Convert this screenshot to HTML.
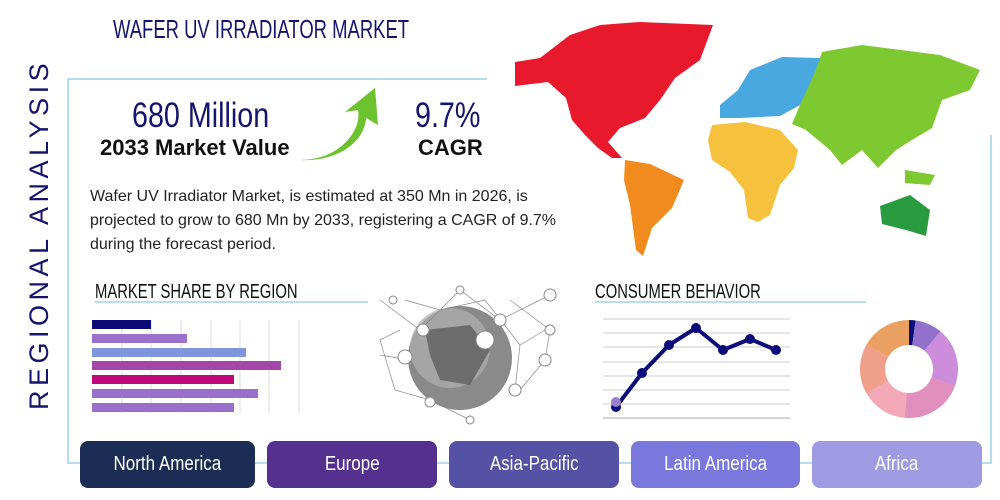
<!DOCTYPE html>
<html><head><meta charset="utf-8"><style>
body{margin:0;width:1000px;height:500px;background:#fff;overflow:hidden;position:relative;font-family:"Liberation Sans",sans-serif}
.abs{position:absolute;white-space:nowrap}
.sx{transform-origin:0 0}
.btn{position:absolute;top:441px;height:47px;border-radius:8px;color:#fff;font-size:20px;text-align:center;line-height:47px}
.btn span{display:inline-block;transform:scaleX(.85)}
</style></head><body>
<svg class="abs" style="left:0;top:0" width="1000" height="500">
<path d="M487 79 H68 V463 H991 V135" fill="none" stroke="#9fd3e6" stroke-width="1.5"/>
<polygon fill="#e8192c" points="515,62 540,58 570,35 600,25 640,22 713,25 700,60 675,78 660,100 645,118 620,128 608,142 622,158 612,158 598,148 585,135 572,120 566,98 548,82 515,86"/>
<polygon fill="#f28b1e" points="625,160 650,164 684,180 672,208 652,228 643,256 636,250 630,205 624,180"/>
<polygon fill="#4aa8e0" points="720,105 738,90 750,70 782,57 820,58 815,80 800,105 780,116 740,118 720,118"/>
<polygon fill="#f6c23d" points="712,125 745,122 780,130 798,150 794,168 780,185 770,215 758,222 748,218 744,190 730,172 712,160 708,140"/>
<polygon fill="#7ec832" points="800,105 815,72 822,52 862,45 940,55 980,70 970,90 942,100 932,128 912,140 896,150 878,168 862,150 842,165 830,150 806,130 792,124"/>
<polygon fill="#2a9a40" points="880,206 910,195 930,210 926,236 906,230 882,224"/>
<polygon fill="#7ec832" points="905,170 935,175 930,185 905,183"/>
<path d="M300 160 C340 160 362 130 358 110 L345 112 L375 88 L378 125 L366 118 C365 140 340 162 300 160 Z" fill="#6cc22f"/>
<line x1="95" y1="302" x2="368" y2="302" stroke="#9fd3e6" stroke-width="1.5"/>
<g stroke="#ddd" stroke-width="1">
<line x1="122" y1="320" x2="122" y2="413"/><line x1="151" y1="320" x2="151" y2="413"/><line x1="181" y1="320" x2="181" y2="413"/><line x1="211" y1="320" x2="211" y2="413"/><line x1="240" y1="320" x2="240" y2="413"/><line x1="269" y1="320" x2="269" y2="413"/><line x1="299" y1="320" x2="299" y2="413"/>
</g>
<rect x="92" y="320" width="59" height="9" fill="#0a0a78"/>
<rect x="92" y="334" width="95" height="9" fill="#9a72cc"/>
<rect x="92" y="348" width="154" height="9" fill="#7f96dc"/>
<rect x="92" y="361" width="189" height="9" fill="#a347a8"/>
<rect x="92" y="375" width="142" height="9" fill="#c0077a"/>
<rect x="92" y="389" width="166" height="9" fill="#9a6fcc"/>
<rect x="92" y="403" width="142" height="9" fill="#9a6fcc"/>
<g>
<circle cx="460" cy="358" r="52" fill="#8a8a8a"/>
<circle cx="450" cy="348" r="40" fill="#b0b0b0" opacity=".7"/>
<path d="M425 330 L470 325 L490 350 L470 385 L440 380 L430 355 Z" fill="#555" opacity=".7"/>
<g stroke="#888" stroke-width=".7" fill="none">
<path d="M380 300 L420 330 L460 290 L500 320 L550 295 M380 355 L410 360 L430 400 L470 420 M520 390 L545 360 L550 330 L510 300 M405 300 L440 310 L485 300 L520 345 L515 390 M400 330 L380 340 L395 390 L430 400 M545 330 L520 345"/>
</g>
<g fill="#fff" stroke="#888">
<circle cx="423" cy="330" r="6"/><circle cx="500" cy="320" r="6"/><circle cx="550" cy="295" r="6"/><circle cx="405" cy="357" r="7"/><circle cx="485" cy="340" r="9"/><circle cx="515" cy="390" r="6"/><circle cx="545" cy="360" r="6"/><circle cx="430" cy="402" r="5"/><circle cx="470" cy="420" r="4"/><circle cx="460" cy="290" r="4"/><circle cx="550" cy="330" r="5"/><circle cx="393" cy="300" r="4"/>
</g>
</g>
<line x1="595" y1="302" x2="866" y2="302" stroke="#9fd3e6" stroke-width="1.5"/>
<g stroke="#ccc" stroke-width="1">
<line x1="603" y1="319" x2="790" y2="319"/><line x1="603" y1="333" x2="790" y2="333"/><line x1="603" y1="347" x2="790" y2="347"/><line x1="603" y1="362" x2="790" y2="362"/><line x1="603" y1="376" x2="790" y2="376"/><line x1="603" y1="390" x2="790" y2="390"/><line x1="603" y1="404" x2="790" y2="404"/><line x1="603" y1="418" x2="790" y2="418" stroke="#aaa"/>
</g>
<polyline points="616,407 642,373 669,345 696,328 723,350 750,339 776,350" fill="none" stroke="#0c0c7a" stroke-width="4" stroke-linejoin="round"/>
<g fill="#0c0c7a"><circle cx="616" cy="407" r="5"/><circle cx="642" cy="373" r="5"/><circle cx="669" cy="345" r="5"/><circle cx="696" cy="328" r="5"/><circle cx="723" cy="350" r="5"/><circle cx="750" cy="339" r="5"/><circle cx="776" cy="350" r="5"/></g>
<circle cx="616" cy="402" r="5" fill="#9a80cc"/>
<g transform="translate(909,369)" fill="none" stroke-width="25">
<circle r="36.5" stroke="#0c0c7a" stroke-dasharray="5 999" transform="rotate(-90)"/>
<circle r="36.5" stroke="#9370cc" stroke-dasharray="20.4 999" transform="rotate(-82)"/>
<circle r="36.5" stroke="#cc8edb" stroke-dasharray="44.6 999" transform="rotate(-50)"/>
<circle r="36.5" stroke="#e08fbf" stroke-dasharray="47.8 999" transform="rotate(20)"/>
<circle r="36.5" stroke="#f4a9b8" stroke-dasharray="35 999" transform="rotate(95)"/>
<circle r="36.5" stroke="#f0a08a" stroke-dasharray="38.2 999" transform="rotate(150)"/>
<circle r="36.5" stroke="#eaa060" stroke-dasharray="38.2 999" transform="rotate(210)"/>
</g>
</svg>
<div class="abs sx" style="left:113px;top:14px;font-size:26px;color:#14146e;transform:scaleX(.71)">WAFER UV IRRADIATOR MARKET</div>
<div class="abs" style="left:24px;top:410px;font-size:27px;color:#14146e;letter-spacing:4.5px;transform:rotate(-90deg);transform-origin:0 0">REGIONAL ANALYSIS</div>
<div class="abs sx" style="left:132px;top:96px;font-size:35px;color:#14146e;transform:scaleX(.82)">680 Million</div>
<div class="abs" style="left:100px;top:135px;font-size:22px;font-weight:bold;color:#111">2033 Market Value</div>
<div class="abs sx" style="left:415px;top:96px;font-size:35px;color:#14146e;transform:scaleX(.82)">9.7%</div>
<div class="abs" style="left:418px;top:135px;font-size:22px;font-weight:bold;color:#111">CAGR</div>
<div class="abs" style="left:90px;top:185px;width:505px;white-space:normal;font-size:16px;line-height:24px;color:#222">Wafer UV Irradiator Market, is estimated at 350 Mn in 2026, is projected to grow to 680 Mn by 2033, registering a CAGR of 9.7% during the forecast period.</div>
<div class="abs sx" style="left:95px;top:281px;font-size:20px;color:#111;transform:scaleX(.74)">MARKET SHARE BY REGION</div>
<div class="abs sx" style="left:595px;top:281px;font-size:20px;color:#111;transform:scaleX(.74)">CONSUMER BEHAVIOR</div>
<div class="btn" style="left:80px;width:175px;background:#1b2d55"><span>North America</span></div>
<div class="btn" style="left:267px;width:170px;background:#55308f"><span>Europe</span></div>
<div class="btn" style="left:449px;width:170px;background:#5552a6"><span>Asia-Pacific</span></div>
<div class="btn" style="left:631px;width:169px;background:#7b78dd"><span>Latin America</span></div>
<div class="btn" style="left:812px;width:170px;background:#9e9be3"><span>Africa</span></div>
</body></html>
